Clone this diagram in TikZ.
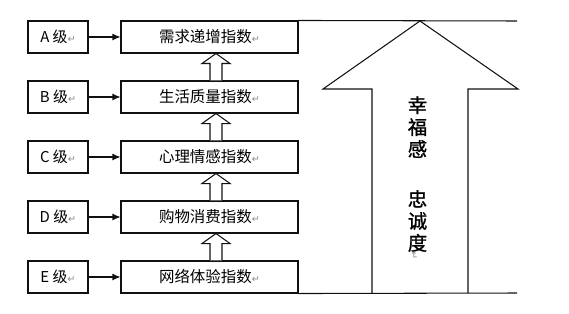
\documentclass[tikz,border=0pt]{standalone}
\usepackage{fontspec}
\usepackage{tikz}
\usepackage{xcolor}
\newfontfamily\cjk{Noto Sans CJK SC}
\newfontfamily\cjkside[FakeBold=1.2]{Noto Sans CJK SC}
\newfontfamily\symfont{DejaVu Sans}
\usetikzlibrary{arrows.meta,positioning,calc}
\definecolor{hpline}{HTML}{111111}
\definecolor{hpmark}{HTML}{8A8A8A}
\newcommand{\retmark}{{\symfont\fontsize{5.5}{6}\selectfont\color{hpmark}↵}}
\newcommand{\hollowup}[2]{%
  \draw[hollowArrow] ($(#1.north)+(0.01,0)$) -- ($(#2.south)+(0.01,-0.2)$) -- ($(#2.south)+(-0.15,-0.2)$)
    -- ($(#2.south)+(0.13,0)$) -- ($(#2.south)+(0.41,-0.2)$) -- ($(#2.south)+(0.25,-0.2)$) -- ($(#1.north)+(0.25,0)$);}
\tikzset{
  levelBox/.style={draw=hpline, line width=0.6pt, minimum width=1.2cm, minimum height=0.64cm, inner sep=0pt, font=\cjk\fontsize{8.5}{10}\selectfont},
  indexBox/.style={draw=hpline, line width=0.6pt, minimum width=3.54cm, minimum height=0.64cm, inner sep=0pt, font=\cjk\fontsize{8.8}{10}\selectfont},
  levelArrow/.style={-{Latex[length=1.6mm, width=1.4mm]}, line width=0.6pt, draw=hpline},
  hollowArrow/.style={line width=0.6pt, draw=hpline, fill=white},
  frameLine/.style={line width=0.6pt, draw=hpline},
  sideText/.style={font=\cjkside\fontsize{11}{12.5}\selectfont, align=center, inner sep=0pt}
}
\begin{document}
\begin{tikzpicture}[x=1cm,y=1cm]
  \useasboundingbox (0,0) rectangle (11.38,6.26);
  \node[levelBox] (la) at (1.16,5.52) {A 级\retmark};
  \node[levelBox] (lb) at (1.16,4.32) {B 级\retmark};
  \node[levelBox] (lc) at (1.16,3.12) {C 级\retmark};
  \node[levelBox] (ld) at (1.16,1.92) {D 级\retmark};
  \node[levelBox] (le) at (1.16,0.72) {E 级\retmark};
  \node[indexBox] (ia) at (4.19,5.52) {需求递增指数\retmark};
  \node[indexBox] (ib) at (4.19,4.32) {生活质量指数\retmark};
  \node[indexBox] (ic) at (4.19,3.12) {心理情感指数\retmark};
  \node[indexBox] (id) at (4.19,1.92) {购物消费指数\retmark};
  \node[indexBox] (ie) at (4.19,0.72) {网络体验指数\retmark};
  \draw[levelArrow] (la) -- (ia);
  \draw[levelArrow] (lb) -- (ib);
  \draw[levelArrow] (lc) -- (ic);
  \draw[levelArrow] (ld) -- (id);
  \draw[levelArrow] (le) -- (ie);
  \hollowup{ib}{ia}
  \hollowup{ic}{ib}
  \hollowup{id}{ic}
  \hollowup{ie}{id}
  % big arrow on the right
  \coordinate (topEnd) at (10.34,5.84);
  \coordinate (botEnd) at (10.34,0.4);
  \draw[frameLine] (ia.north east) -- (topEnd);
  \draw[frameLine] (ie.south east) -- (botEnd);
  \draw[frameLine] (7.44,0.4) -- (7.44,4.48) -- (6.46,4.48) -- (8.4,5.84) -- (10.36,4.48) -- (9.36,4.48) -- (9.36,0.4);
  \node[sideText] (happyText) at (8.35,3.72) {幸\\福\\感};
  \node[sideText] (loyalText) at (8.35,1.84) {忠\\诚\\度};
  \node[rotate=-90, inner sep=0pt] (loyalMark) at (8.28,1.14) {\retmark};
\end{tikzpicture}
\end{document}
